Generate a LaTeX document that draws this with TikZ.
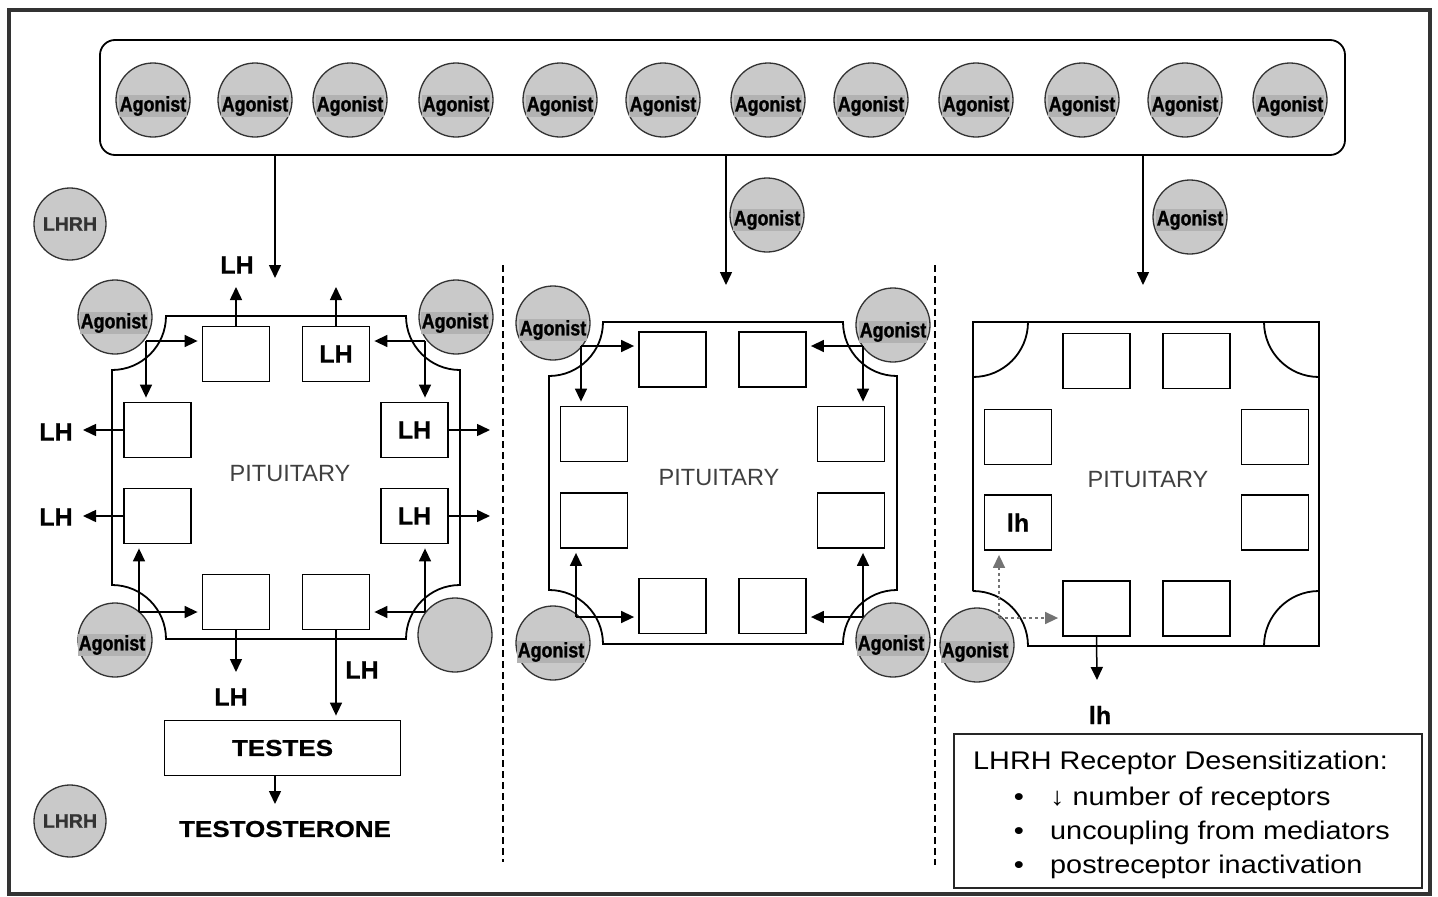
\documentclass[tikz,border=0pt]{standalone}
\usepackage{fontspec}
\setmainfont{Liberation Sans}
\newfontfamily\agofont[FakeStretch=0.85,FakeBold=1.2]{Liberation Sans Bold}
\newfontfamily\heavyfont[FakeBold=0.8]{Liberation Sans Bold}
\newfontfamily\wideheavy[FakeStretch=1.13,FakeBold=0.8]{Liberation Sans Bold}
\newfontfamily\widefont[FakeStretch=1.13]{Liberation Sans}
\usetikzlibrary{arrows.meta}

\definecolor{agofill}{gray}{0.79}
\definecolor{agoshade}{gray}{0.70}

\newcommand\agofnt{\agofont\fontsize{21pt}{21pt}\selectfont}
\newcommand\lhfnt{\heavyfont\fontsize{25pt}{25pt}\selectfont}
\newcommand\lhrhfnt{\heavyfont\fontsize{19.5pt}{19.5pt}\selectfont}
\newcommand\pitfnt{\fontsize{23.5pt}{23.5pt}\selectfont}
\newcommand\widebfnt{\wideheavy\fontsize{23pt}{23pt}\selectfont}
\newcommand\legfnt{\widefont\fontsize{25.5pt}{25.5pt}\selectfont}

\begin{document}
\begin{tikzpicture}[x=1pt,y=-1pt,
    every node/.style={inner sep=0pt},
    ago/.style={circle,draw=black!80,fill=agofill,line width=1.3pt,minimum size=74pt},
    agotxt/.style={fill=agoshade,inner sep=0.8pt,font=\agofnt},
    rec/.style={draw,line width=1.8pt,minimum width=67pt,minimum height=55pt,font=\lhfnt},
    wall/.style={line width=1.8pt},
    arr/.style={line width=1.5pt,-{Triangle[length=13pt,width=12pt]}},
    darr/.style={arr,black!55,dashed},
    sep/.style={line width=1.5pt,dash pattern=on 7pt off 4pt}]

    \useasboundingbox (0,0) rectangle (1438,897);

    % Frame
    \draw[line width=3.5pt,black!80] (9,10) rectangle (1430,894);

    % Agonist pool
    \node[draw,line width=1.8pt,rounded corners=15pt,minimum width=1245pt,minimum height=115pt] (pool) at (722.5,97.5) {};
    \foreach \x [count=\i] in {153,255,350,456,560,663,768,871,976,1082,1185,1290} {
        \node[ago] (top\i) at (\x,100) {};
        \node[agotxt] (toptxt\i) at (\x,106) {Agonist};
    }

    % LHRH
    \node[ago,minimum size=72pt,font=\lhrhfnt,text=black!80] (lhrhA) at (70,224) {LHRH};
    \node[ago,minimum size=72pt,font=\lhrhfnt,text=black!80] (lhrhB) at (70,821) {LHRH};

    % Separators
    \draw[sep] (503,265) -- (503,862);
    \draw[sep] (935,265) -- (935,865);

    % Feed arrows
    \coordinate (feedL) at (275,278);
    \coordinate (feedM) at (726,285);
    \coordinate (feedR) at (1143,285);
    \draw[arr] (pool.south -| feedL) -- (feedL);
    \draw[arr] (pool.south -| feedM) -- (feedM);
    \draw[arr] (pool.south -| feedR) -- (feedR);
    \node[font=\lhfnt] (lhtop) at (237,265) {LH};
    \node[ago] (agoM) at (767,215) {};
    \node[agotxt] (agoMt) at (767,220) {Agonist};
    \node[ago] (agoR) at (1190,217) {};
    \node[agotxt] (agoRt) at (1190,220) {Agonist};

    % ---------- left pituitary ----------
    \draw[wall] (166,316) -- (406,316) arc[start angle=180,end angle=90,radius=54]
        -- (460,585) arc[start angle=270,end angle=180,radius=54]
        -- (166,639) arc[start angle=0,end angle=-90,radius=54]
        -- (112,370) arc[start angle=90,end angle=0,radius=54] -- cycle;
    \node[font=\pitfnt,text=black!75] (pitL) at (290,474) {PITUITARY};

    \node[ago] (aLtl) at (115,317) {};
    \node[agotxt] (aLtlt) at (114,323) {Agonist};
    \node[ago] (aLtr) at (456,317) {};
    \node[agotxt] (aLtrt) at (455,323) {Agonist};
    \node[ago] (aLbl) at (115,640) {};
    \node[agotxt] (aLblt) at (112,645) {Agonist};
    \node[ago] (aLbr) at (455,635) {};

    \node[rec] (L1) at (236,354) {};
    \node[rec] (L2) at (336,354) {LH};
    \node[rec] (L3) at (157.5,430) {};
    \node[rec] (L4) at (157.5,516) {};
    \node[rec] (L5) at (414.5,430) {LH};
    \node[rec] (L6) at (414.5,516) {LH};
    \node[rec] (L7) at (236,602) {};
    \node[rec] (L8) at (336,602) {};

    % agonist binding
    \coordinate (ltl) at (146,341);
    \coordinate (ltr) at (425,341);
    \coordinate (lbl) at (139,612);
    \coordinate (lbr) at (425,612);
    \draw[arr,shorten >=4pt] (ltl) -- (ltl -| L1.west);
    \draw[arr,shorten >=4pt] (ltl) -- (ltl |- L3.north);
    \draw[arr,shorten >=4pt] (ltr) -- (ltr -| L2.east);
    \draw[arr,shorten >=4pt] (ltr) -- (ltr |- L5.north);
    \draw[arr,shorten >=4pt] (lbl) -- (lbl |- L4.south);
    \draw[arr,shorten >=4pt] (lbl) -- (lbl -| L7.west);
    \draw[arr,shorten >=4pt] (lbr) -- (lbr |- L6.south);
    \draw[arr,shorten >=4pt] (lbr) -- (lbr -| L8.east);

    % LH release
    \coordinate (up1) at (236,287);
    \coordinate (up2) at (336,287);
    \coordinate (out3) at (83,430);
    \coordinate (out4) at (83,516);
    \coordinate (out5) at (490,430);
    \coordinate (out6) at (490,516);
    \coordinate (down7) at (236,672);
    \draw[arr] (L1.north) -- (up1);
    \draw[arr] (L2.north) -- (up2);
    \draw[arr] (L3.west) -- (out3);
    \draw[arr] (L4.west) -- (out4);
    \draw[arr] (L5.east) -- (out5);
    \draw[arr] (L6.east) -- (out6);
    \draw[arr] (L7.south) -- (down7);
    \node[font=\lhfnt] (lh3) at (56,432) {LH};
    \node[font=\lhfnt] (lh4) at (56,517) {LH};
    \node[font=\lhfnt] (lh7) at (231,697) {LH};
    \node[font=\lhfnt] (lh8) at (362,670) {LH};

    % Testes
    \node[draw,line width=1.8pt,minimum width=236pt,minimum height=55pt,font=\widebfnt] (testes) at (282.5,748) {TESTES};
    \node[font=\widebfnt] (testo) at (285,829) {TESTOSTERONE};
    \coordinate (tos) at (275,804);
    \draw[arr,shorten >=4pt] (L8.south) -- (L8.south |- testes.north);
    \draw[arr] (testes.south -| tos) -- (tos);

    % ---------- middle pituitary ----------
    \draw[wall] (603,322) -- (843,322) arc[start angle=180,end angle=90,radius=54]
        -- (897,590) arc[start angle=270,end angle=180,radius=54]
        -- (603,644) arc[start angle=0,end angle=-90,radius=54]
        -- (549,376) arc[start angle=90,end angle=0,radius=54] -- cycle;
    \node[font=\pitfnt,text=black!75] (pitM) at (719,478) {PITUITARY};

    \node[ago] (aMtl) at (553,323) {};
    \node[agotxt] (aMtlt) at (553,330) {Agonist};
    \node[ago] (aMtr) at (893,325) {};
    \node[agotxt] (aMtrt) at (893,332) {Agonist};
    \node[ago] (aMbl) at (553,643) {};
    \node[agotxt] (aMblt) at (551,652) {Agonist};
    \node[ago] (aMbr) at (893,640) {};
    \node[agotxt] (aMbrt) at (891,645) {Agonist};

    \node[rec] (M1) at (672.5,359.5) {};
    \node[rec] (M2) at (772.5,359.5) {};
    \node[rec] (M3) at (594,434) {};
    \node[rec] (M4) at (594,520.5) {};
    \node[rec] (M5) at (851,434) {};
    \node[rec] (M6) at (851,520.5) {};
    \node[rec] (M7) at (672.5,606) {};
    \node[rec] (M8) at (772.5,606) {};

    \coordinate (mtl) at (581,346);
    \coordinate (mtr) at (863,346);
    \coordinate (mbl) at (576,617);
    \coordinate (mbr) at (863,617);
    \draw[arr,shorten >=4pt] (mtl) -- (mtl -| M1.west);
    \draw[arr,shorten >=4pt] (mtl) -- (mtl |- M3.north);
    \draw[arr,shorten >=4pt] (mtr) -- (mtr -| M2.east);
    \draw[arr,shorten >=4pt] (mtr) -- (mtr |- M5.north);
    \draw[arr,shorten >=4pt] (mbl) -- (mbl |- M4.south);
    \draw[arr,shorten >=4pt] (mbl) -- (mbl -| M7.west);
    \draw[arr,shorten >=4pt] (mbr) -- (mbr |- M6.south);
    \draw[arr,shorten >=4pt] (mbr) -- (mbr -| M8.east);

    % ---------- right pituitary ----------
    \draw[wall] (973,591) -- (973,322) -- (1319,322) -- (1319,646) -- (1028,646)
        arc[start angle=0,end angle=-90,radius=55];
    \draw[wall] (1028,322) arc[start angle=0,end angle=90,radius=55];
    \draw[wall] (1264,322) arc[start angle=180,end angle=90,radius=55];
    \draw[wall] (1264,646) arc[start angle=180,end angle=270,radius=55];
    \node[font=\pitfnt,text=black!75] (pitR) at (1148,480) {PITUITARY};

    \node[ago] (aRbl) at (977,645) {};
    \node[agotxt] (aRblt) at (975,652) {Agonist};

    \node[rec] (R1) at (1096.5,361) {};
    \node[rec] (R2) at (1196.5,361) {};
    \node[rec] (R3) at (1018,437) {};
    \node[rec] (R4) at (1018,522.5) {lh};
    \node[rec] (R5) at (1275,437) {};
    \node[rec] (R6) at (1275,522.5) {};
    \node[rec] (R7) at (1096.5,608.5) {};
    \node[rec] (R8) at (1196.5,608.5) {};

    % weak binding
    \coordinate (rbl) at (999,618);
    \draw[darr,shorten >=4pt] (rbl) -- (rbl |- R4.south);
    \draw[darr,shorten >=4pt] (rbl) -- (rbl -| R7.west);
    \coordinate (down7r) at (1097,680);
    \draw[arr] (R7.south) -- (down7r);
    \node[font=\lhfnt] (lhR) at (1100,715) {lh};

    % Legend
    \node[draw,line width=1.8pt,black!85,minimum width=468pt,minimum height=154pt] (legend) at (1188,811) {};
    \node[font=\legfnt,anchor=base west] (leg0) at (973,769) {LHRH Receptor Desensitization:};
    \node[font=\legfnt,anchor=base] (bul1) at (1019,805) {•};
    \node[font=\legfnt,anchor=base] (bul2) at (1019,839) {•};
    \node[font=\legfnt,anchor=base] (bul3) at (1019,873) {•};
    \node[font=\legfnt,anchor=base west] (leg1) at (1050,805) {↓ number of receptors};
    \node[font=\legfnt,anchor=base west] (leg2) at (1050,839) {uncoupling from mediators};
    \node[font=\legfnt,anchor=base west] (leg3) at (1050,873) {postreceptor inactivation};

\end{tikzpicture}
\end{document}
